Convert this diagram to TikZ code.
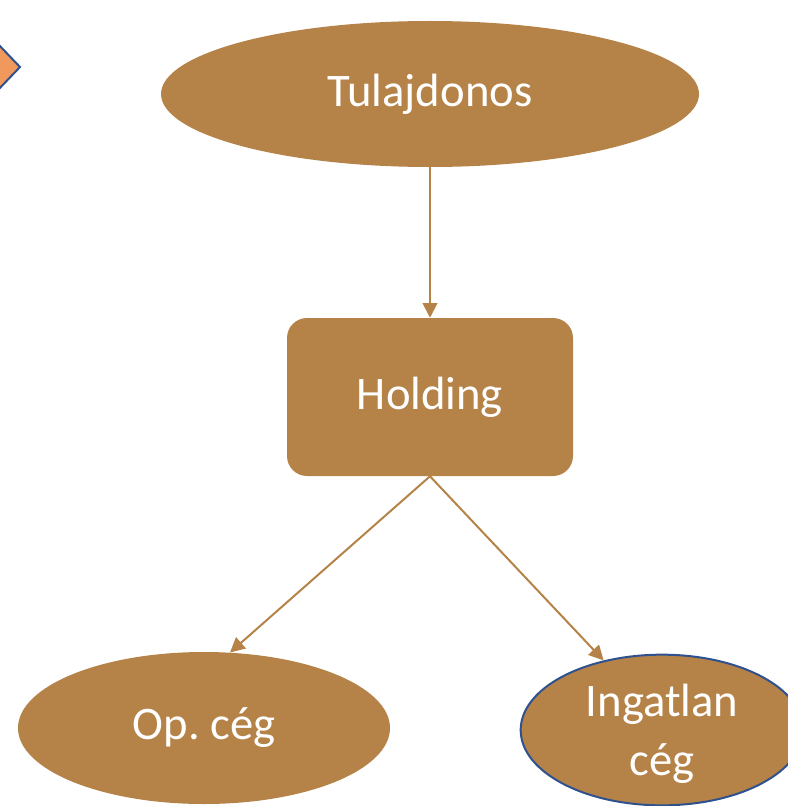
\documentclass[tikz,border=0pt]{standalone}
\usepackage{fontspec}
\setmainfont{Carlito}
\usetikzlibrary{shapes.geometric}
\usetikzlibrary{arrows.meta}
\definecolor{barna}{RGB}{181,130,71}
\definecolor{kek}{RGB}{47,82,143}
\definecolor{narancs}{RGB}{241,152,92}
\tikzset{
	tag/.style={fill=barna, text=white, inner sep=0pt, font=\fontsize{35}{44}\selectfont},
	tojas/.style={tag, ellipse},
	doboz/.style={tag, rectangle, rounded corners=15pt},
	nyil/.style={draw=barna, line width=1.5pt, -{Triangle[length=11pt, width=11pt]}}
}

\begin{document}
\begin{tikzpicture}[x=0.75pt, y=-0.75pt]
	\useasboundingbox (0, 0) rectangle (788, 806);
	\clip (0, 0) rectangle (788, 806);
	\draw[kek, line width=1.5pt, fill=narancs] (20, 67) -- (-25, 20) -- (-70, 67) -- (-25, 114) -- cycle;
	\node[tojas, minimum width=403.5pt, minimum height=109.5pt] (tul) at (430, 94) {Tulajdonos};
	\node[doboz, minimum width=214.5pt, minimum height=118.5pt] (hold) at (430, 397) {Holding};
	\node[tojas, minimum width=279pt, minimum height=114pt] (op) at (204, 728) {Op.\ cég};
	\node[tojas, draw=kek, line width=1.5pt, align=center, minimum width=212pt, minimum height=113pt, text depth=-6pt] (ing) at (662, 730) {Ingatlan\\cég};
	\draw[nyil] (tul.south) -- (hold.north);
	\draw[nyil] (hold.south) -- (op.71);
	\draw[nyil] (hold.south) -- (ing.130);
\end{tikzpicture}
\end{document}
